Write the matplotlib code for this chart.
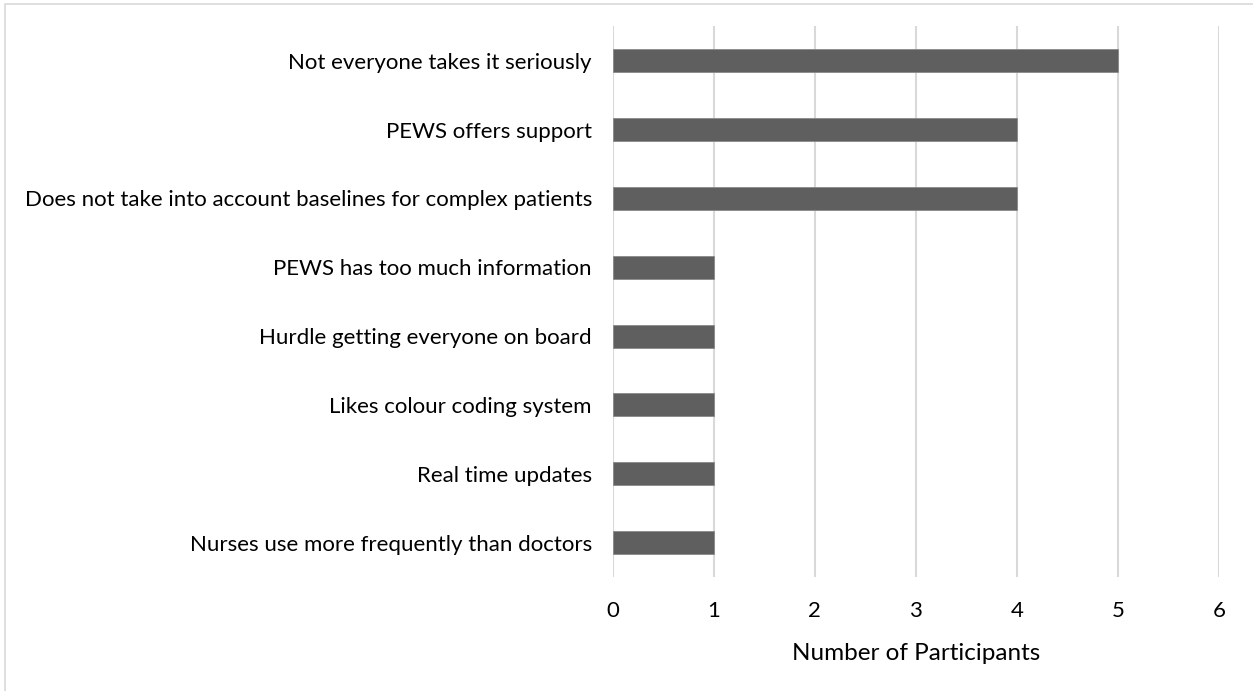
import matplotlib
matplotlib.use('Agg')
import matplotlib.pyplot as plt
from matplotlib.patches import Rectangle

# 类别与参与人数（自上而下）
themes = [
    'Not everyone takes it seriously',
    'PEWS offers support',
    'Does not take into account baselines for complex patients',
    'PEWS has too much information',
    'Hurdle getting everyone on board',
    'Likes colour coding system',
    'Real time updates',
    'Nurses use more frequently than doctors',
]
participants = [5, 4, 4, 1, 1, 1, 1, 1]
x_ticks = [0, 1, 2, 3, 4, 5, 6]
x_label = 'Number of Participants'

plt.rcParams['font.family'] = ['Lato', 'DejaVu Sans']

fig = plt.figure(figsize=(12.53, 6.91), dpi=100)
ax = fig.add_axes([0.489, 0.165, 0.484, 0.797])

# 外框
fig.patches.append(Rectangle((0.004, -0.01), 1.2, 1.004, transform=fig.transFigure,
                             fill=False, edgecolor='#d9d9d9', linewidth=1.2))

y = list(range(len(themes)))[::-1]
ax.barh(y, participants, height=1/3, color='#5f5f5f', edgecolor='#8a8a8a',
        linewidth=0.6, zorder=3)

ax.set_xlim(0, 6)
ax.set_ylim(-0.5, len(themes) - 0.5)
ax.set_xticks(x_ticks)
ax.set_yticks(y)
ax.set_yticklabels(themes)
ax.tick_params(axis='both', length=0, labelsize=16, colors='black')
ax.tick_params(axis='y', pad=15)
ax.tick_params(axis='x', pad=17)
ax.set_xlabel(x_label, fontsize=17.5, labelpad=16)

ax.grid(axis='x', color='#d9d9d9', linewidth=1.5, zorder=0)
for s in ax.spines.values():
    s.set_visible(False)

fig.savefig('out.png', dpi=100)
